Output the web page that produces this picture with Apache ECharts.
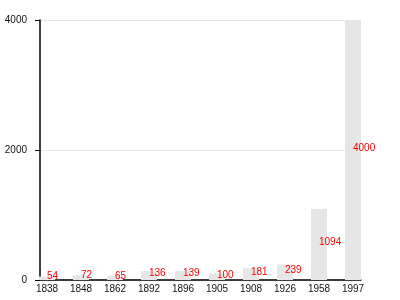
<!DOCTYPE html>
<html><head><meta charset="utf-8">
<script src="https://cdn.jsdelivr.net/npm/echarts@6/dist/echarts.min.js"></script>
<style>html,body{margin:0;padding:0;background:#fff}#c{width:400px;height:300px}</style>
</head><body><div id="c"></div>
<script>
var categories = ['1838','1848','1862','1892','1896','1905','1908','1926','1958','1997'];
var values = [54,72,65,136,139,100,181,239,1094,4000];
var yTicks = [0,2000,4000];

var chart = echarts.init(document.getElementById('c'), null, {renderer:'canvas'});
var font = 'Liberation Sans, Arial, sans-serif';
chart.setOption({
  animation:false,
  grid:[
    {left:40, right:39, top:20, bottom:20},
    {left:47, right:47, top:20, bottom:20}
  ],
  xAxis:[
    {gridIndex:0, type:'value', min:0, max:1, axisLine:{show:true, lineStyle:{color:'#000', width:1.5}},
     axisTick:{show:false}, axisLabel:{show:false}, splitLine:{show:false}},
    {gridIndex:1, type:'category', data:categories, boundaryGap:false,
     axisLine:{show:false}, axisTick:{show:false},
     axisLabel:{color:'#111', fontSize:10, fontFamily:font, margin:4, interval:0}}
  ],
  yAxis:[
    {gridIndex:0, type:'value', min:yTicks[0], max:yTicks[yTicks.length-1], interval:2000,
     axisLine:{show:true, lineStyle:{color:'#000', width:1.5}},
     axisTick:{show:true, length:5, lineStyle:{color:'#000'}},
     axisLabel:{color:'#111', fontSize:10, fontFamily:font, margin:13, formatter:function(v){return String(v);}},
     splitLine:{show:true, lineStyle:{color:'#e8e8e8'}}},
    {gridIndex:1, type:'value', min:0, max:4000, show:false}
  ],
  series:[{
    type:'bar', xAxisIndex:1, yAxisIndex:1, data:values, barWidth:16,
    itemStyle:{color:'#e6e6e6'},
    label:{show:true, position:['50%','50%'], offset:[0,-2], align:'left', verticalAlign:'middle',
      color:'#f00', fontSize:10, fontFamily:font}
  }]
});
</script></body></html>
